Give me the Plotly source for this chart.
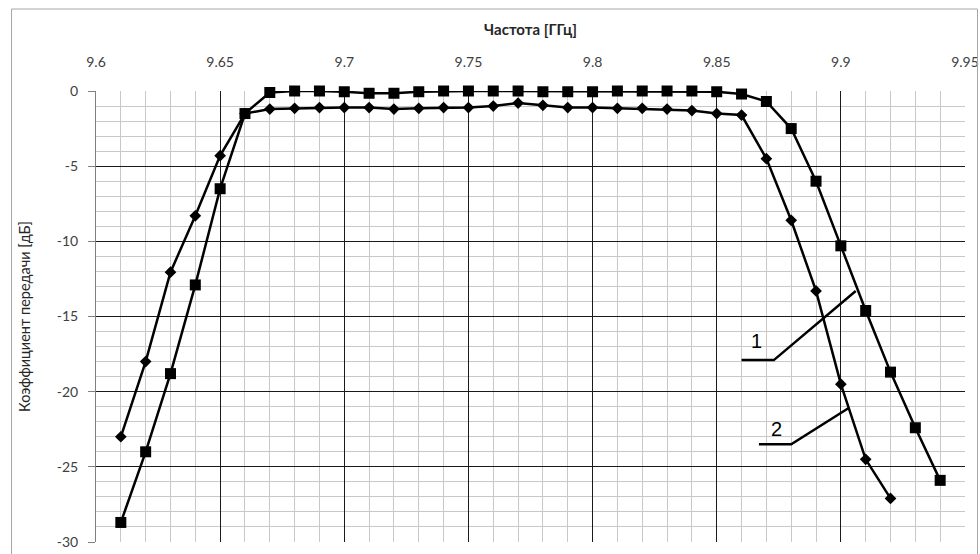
import plotly.graph_objects as go

# Frequency grid [GHz]
freq_sq = [9.61, 9.62, 9.63, 9.64, 9.65, 9.66, 9.67, 9.68, 9.69, 9.70, 9.71, 9.72,
           9.73, 9.74, 9.75, 9.76, 9.77, 9.78, 9.79, 9.80, 9.81, 9.82, 9.83, 9.84,
           9.85, 9.86, 9.87, 9.88, 9.89, 9.90, 9.91, 9.92, 9.93, 9.94]
# Curve 1 (squares) [dB]
gain_sq = [-28.7, -24.0, -18.8, -12.9, -6.5, -1.5, -0.1, 0.0, 0.0, -0.05, -0.15, -0.15,
           -0.05, 0.0, 0.0, 0.0, 0.0, -0.05, -0.05, -0.05, 0.0, 0.0, 0.0, 0.0,
           -0.05, -0.2, -0.7, -2.5, -6.0, -10.3, -14.6, -18.7, -22.4, -25.9]

freq_dm = [9.61, 9.62, 9.63, 9.64, 9.65, 9.66, 9.67, 9.68, 9.69, 9.70, 9.71, 9.72,
           9.73, 9.74, 9.75, 9.76, 9.77, 9.78, 9.79, 9.80, 9.81, 9.82, 9.83, 9.84,
           9.85, 9.86, 9.87, 9.88, 9.89, 9.90, 9.91, 9.92]
# Curve 2 (diamonds) [dB]
gain_dm = [-23.0, -18.0, -12.05, -8.3, -4.3, -1.5, -1.2, -1.15, -1.1, -1.1, -1.1, -1.2,
           -1.15, -1.1, -1.1, -1.0, -0.8, -0.95, -1.1, -1.1, -1.15, -1.15, -1.2, -1.3,
           -1.5, -1.6, -4.5, -8.6, -13.3, -19.5, -24.5, -27.1]

# Axis ticks
x_tickvals = [9.6, 9.65, 9.7, 9.75, 9.8, 9.85, 9.9, 9.95]
x_ticktext = ["9.6", "9.65", "9.7", "9.75", "9.8", "9.85", "9.9", "9.95"]
y_tickvals = [0, -5, -10, -15, -20, -25, -30]
y_ticktext = ["0", "-5", "-10", "-15", "-20", "-25", "-30"]

# Leader lines for the curve labels
lead1_x = [9.860, 9.873, 9.906]
lead1_y = [-17.9, -17.9, -13.3]
lead2_x = [9.867, 9.880, 9.903]
lead2_y = [-23.5, -23.5, -21.1]
labels = ["1", "2"]
label_x = [9.866, 9.874]
label_y = [-16.6, -22.5]

x_title = "Частота [ГГц]"
y_title = "Коэффициент передачи [дБ]"

FONT = "Lato, Open Sans, sans-serif"

fig = go.Figure()
fig.add_trace(go.Scatter(x=freq_dm, y=gain_dm, mode="lines+markers",
                         line=dict(color="black", width=2.5),
                         marker=dict(symbol="diamond", size=9, color="black"),
                         cliponaxis=False))
fig.add_trace(go.Scatter(x=freq_sq, y=gain_sq, mode="lines+markers",
                         line=dict(color="black", width=2.5),
                         marker=dict(symbol="square", size=11, color="black"),
                         cliponaxis=False))
fig.add_trace(go.Scatter(x=lead1_x, y=lead1_y, mode="lines",
                         line=dict(color="black", width=2.5)))
fig.add_trace(go.Scatter(x=lead2_x, y=lead2_y, mode="lines",
                         line=dict(color="black", width=2.5)))
for t, lx, ly in zip(labels, label_x, label_y):
    fig.add_annotation(x=lx, y=ly, text=t, showarrow=False,
                       font=dict(family="Liberation Sans, Arial, sans-serif", size=20, color="black"))

# Outer chart border
fig.add_shape(type="rect", xref="paper", yref="paper", x0=-0.0972, x1=1.0144, y0=-0.05, y1=1.1818,
              line=dict(color="#a6a6a6", width=1))

fig.update_layout(
    width=980, height=554,
    margin=dict(l=96, r=15, t=91, b=12, autoexpand=False),
    paper_bgcolor="white", plot_bgcolor="white",
    showlegend=False,
    font=dict(family=FONT, size=14, color="#404040"),
    xaxis=dict(
        side="top", range=[9.6, 9.95], tickmode="array",
        tickvals=x_tickvals, ticktext=x_ticktext,
        showgrid=True, gridcolor="#1a1a1a", gridwidth=1,
        minor=dict(dtick=0.01, tick0=9.6, showgrid=True, gridcolor="#c8c8c8", gridwidth=1),
        zeroline=False, showline=False,
        ticks="outside", ticklen=17, tickcolor="rgba(0,0,0,0)",
        automargin=False, ticklabeloverflow="allow",
        title=dict(text="<b>" + x_title + "</b>", font=dict(size=15, color="#262626"), standoff=14),
        tickfont=dict(size=14, color="#404040"),
    ),
    yaxis=dict(
        range=[-30, 0], tickmode="array",
        tickvals=y_tickvals, ticktext=y_ticktext,
        showgrid=True, gridcolor="#1a1a1a", gridwidth=1,
        minor=dict(dtick=1, tick0=0, showgrid=True, gridcolor="#c8c8c8", gridwidth=1),
        zeroline=False, showline=True, linecolor="#808080", linewidth=1,
        ticks="outside", ticklen=7, tickcolor="#808080", ticklabelstandoff=7,
        automargin=False,
        title=dict(text=y_title, font=dict(size=14.5, color="#262626"), standoff=22),
        tickfont=dict(size=14, color="#404040"),
    ),
)

fig.write_html("out.html", config={"displayModeBar": False},
               post_script="document.body.style.margin='0px';")
